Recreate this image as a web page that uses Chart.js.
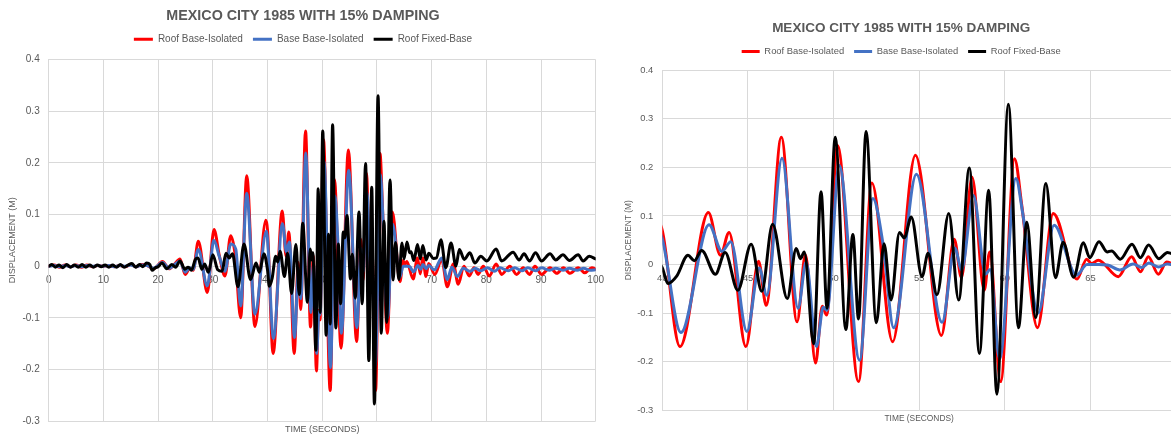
<!DOCTYPE html>
<html>
<head>
<meta charset="utf-8">
<style>
  html, body { margin: 0; padding: 0; background: #fff; overflow: hidden; }
  #wrap { position: relative; width: 1171px; height: 436px; overflow: hidden; }
  #fullChart { position: absolute; left: 0; top: 0; }
  #zoomChart { position: absolute; left: 600px; top: 0; }
</style>
</head>
<body>
<div id="wrap">
  <canvas id="fullChart" width="606" height="436"></canvas>
  <canvas id="zoomChart" width="602" height="436"></canvas>
</div>

<script src="https://cdn.jsdelivr.net/npm/chart.js"></script>

<script>
// 圖表文字
const chartTitle = 'MEXICO CITY 1985 WITH 15% DAMPING';
const xTitle = 'TIME (SECONDS)';
const yTitle = 'DISPLACEMENT (M)';
const seriesNames = ['Roof Base-Isolated', 'Base Base-Isolated', 'Roof Fixed-Base'];
const seriesColors = ['#ff0000', '#4472c4', '#000000'];

// Roof Base-Isolated (紅)
const redT = [0, 1, 2, 3, 4, 5, 6, 7, 8, 9, 10, 11, 12, 13, 14, 15, 16, 17, 18, 19.2,
  20.8, 22.0, 23.0, 24.0, 24.95, 25.8, 26.4, 27.35, 29.0, 30.22, 31.2, 32.23, 33.27, 34.06, 35.1, 36.2, 37.7, 39.7,
  40.0, 41.03, 42.69, 43.4, 43.9, 44.88, 45.62, 46.07, 46.95, 47.87, 48.36, 48.95, 49.34, 49.6,
  50.23, 51.46, 52.24, 53.45, 54.78, 56.3, 57.05, 57.47, 58.09, 58.8, 59.12, 59.76,
  60.57, 61.0, 61.91, 62.83, 64.22, 64.78, 65.07, 65.46, 66.63, 67.41, 67.93, 68.38, 68.97, 69.45,
  70.6, 71.85, 72.87, 73.97, 74.88, 75.9, 76.9, 77.75, 78.5, 79.45, 80.55, 81.8, 82.8, 84.3,
  85.55, 86.75, 87.9, 88.9, 90.1, 91.65, 92.9, 94.1, 95.3, 96.8, 98.0, 99.3, 100];
const redV = [0, 0.002, -0.002, 0.002, -0.001, 0.002, -0.002, 0.002, -0.001, 0.001, 0, 0.001, -0.001, 0.001, -0.001, 0.003, -0.001, 0.003, 0.001, -0.005,
  0.009, -0.005, 0.004, 0.014, -0.016, -0.004, -0.008, 0.048, -0.051, 0.071, 0.02, -0.019, 0.059, 0.024, -0.1, 0.175, -0.117, 0.089,
  0.07, -0.169, 0.107, 0.019, 0.066, -0.169, 0.007, -0.084, 0.262, -0.118, 0.02, -0.203, -0.086, -0.104,
  0.245, -0.241, 0.168, -0.159, 0.225, -0.146, 0.052, -0.027, 0.18, -0.053, 0.026, -0.241,
  0.218, 0.12, -0.13, 0.105, -0.03, 0.011, 0.002, 0.009, -0.025, 0.016, -0.015, 0.016, -0.02, 0.005,
  -0.016, 0.013, -0.04, 0.004, -0.035, 0, -0.019, -0.003, -0.016, 0, -0.019, 0.004, -0.016, 0,
  -0.016, -0.003, -0.016, 0, -0.016, -0.003, -0.014, -0.003, -0.014, -0.003, -0.013, -0.003, -0.006];

// Base Base-Isolated (藍)
const blueT = [0, 1, 2, 3, 4, 5, 6, 7, 8, 9, 10, 11, 12, 13, 14, 15, 16, 17, 18, 19.2,
  20.8, 22.0, 23.0, 24.0, 24.95, 25.8, 26.4, 27.35, 29.0, 30.2, 31.2, 32.2, 33.3, 34.2, 35.1, 36.2, 37.7, 39.8,
  40.0, 41.09, 42.73, 43.48, 44.0, 44.94, 45.66, 46.1, 46.99, 47.93, 48.4, 49.0, 49.4, 49.62,
  50.33, 51.52, 52.3, 52.9, 53.51, 54.84, 56.34, 57.08, 57.48, 58.17, 58.88, 59.14, 59.7,
  60.65, 61.05, 61.95, 62.88, 64.19, 64.8, 65.5, 66.0, 66.72, 67.5, 67.99, 68.42, 68.97, 69.5,
  70.5, 71.85, 72.87, 73.7, 74.7, 75.8, 77.0, 78.0, 79.0, 80.2, 81.5, 82.5, 84.0,
  85.2, 86.5, 87.6, 89.0, 90.1, 91.5, 92.7, 94.0, 95.2, 96.6, 97.8, 99.0, 100];
const blueV = [0, 0.001, -0.001, 0.001, -0.001, 0.001, -0.001, 0.001, 0, 0.001, 0, 0.001, -0.001, 0.001, 0, 0.002, -0.001, 0.002, 0.001, -0.004,
  0.007, -0.004, 0.003, 0.01, -0.012, -0.003, -0.006, 0.032, -0.038, 0.05, 0.018, -0.01, 0.043, 0.033, -0.077, 0.141, -0.093, 0.068,
  0.053, -0.14, 0.082, 0.027, 0.047, -0.138, -0.007, -0.063, 0.219, -0.09, 0.005, -0.169, -0.088, -0.094,
  0.204, -0.197, 0.136, 0.04, -0.13, 0.186, -0.119, 0.034, -0.011, 0.142, -0.02, -0.01, -0.194,
  0.177, 0.105, -0.1, 0.081, -0.022, 0, 0, -0.001, -0.011, 0.001, -0.006, 0.003, -0.005, 0.001,
  -0.007, 0.016, -0.026, -0.002, -0.02, -0.004, -0.01, -0.004, -0.009, -0.003, -0.01, -0.003, -0.009,
  -0.003, -0.009, -0.003, -0.009, -0.003, -0.008, -0.004, -0.008, -0.004, -0.008, -0.004, -0.008, -0.007];

// Roof Fixed-Base (黑)
const blackT = [0, 0.6, 1.2, 1.9, 2.6, 3.3, 4.0, 4.7, 5.4, 6.1, 6.8, 7.5, 8.2, 8.9, 9.6, 10.3, 11.0, 11.7, 12.4, 13.1,
  13.8, 14.5, 15.2, 15.9, 16.6, 17.2, 17.9, 18.5, 18.9, 19.5, 20.0, 20.7, 21.6, 22.5, 23.2, 24.0, 24.9, 25.5, 26.1, 26.8,
  27.3, 28.0, 28.5, 29.2, 30.0, 30.9, 31.7, 32.4, 33.0, 33.6, 34.6, 35.7, 36.9, 37.9, 38.5, 39.35,
  40.0, 40.33, 40.84, 41.5, 41.87, 42.3, 43.1, 43.67, 44.41, 45.19, 45.81, 46.44, 47.3, 47.82, 48.07, 48.29, 48.84, 49.27, 49.62,
  50.1, 50.72, 51.13, 51.46, 51.9, 52.5, 52.95, 53.36, 53.85, 54.13, 54.54, 55.17, 55.52, 56.04, 56.73, 57.31, 57.93, 58.52, 59.06, 59.54,
  60.21, 60.8, 61.29, 61.8, 62.4, 62.96, 63.41, 64.02, 64.59, 64.96, 65.5, 65.98, 66.24, 66.75, 67.43, 67.92, 68.4, 69.0, 69.5,
  70.3, 70.9, 71.7, 72.6, 73.55, 74.45, 75.07, 75.98, 77.0, 77.9, 79.0, 80.1, 81.8, 82.8, 84.9,
  86.0, 86.9, 87.9, 89.0, 90.1, 91.65, 92.7, 94.0, 95.2, 96.8, 97.7, 98.8, 100];
const blackV = [0, 0.003, -0.002, 0.002, -0.003, 0.003, -0.002, 0.002, -0.002, 0.003, -0.002, 0.002, -0.002, 0.002, -0.001, 0.002, -0.002, 0.002, -0.002, 0.003,
  -0.002, 0.002, 0.005, -0.002, 0.003, -0.001, 0.006, 0.003, -0.008, -0.003, -0.001, 0.006, -0.005, 0.003, -0.002, 0.01, -0.006, -0.002, -0.008, 0.013,
  0.016, -0.006, 0.004, -0.012, 0.022, -0.007, -0.01, 0.025, 0.016, 0.024, -0.04, 0.043, -0.026, 0.006, -0.012, 0.024,
  -0.007, -0.039, -0.024, 0.019, 0.008, 0.029, -0.02, 0.025, -0.053, 0.042, -0.055, 0.083, -0.07, 0.033, 0.012, 0.026, -0.163, 0.15, -0.09,
  0.262, -0.134, 0.062, -0.112, 0.274, -0.12, 0.043, -0.073, 0.066, 0.055, 0.098, -0.025, 0.023, -0.062, 0.105, -0.073, 0.199, -0.183, 0.153, -0.267,
  0.33, -0.13, 0.087, -0.109, 0.167, -0.027, 0.046, -0.026, 0.045, 0.014, 0.047, 0.026, 0.028, 0.011, 0.042, 0.014, 0.04, 0.012, 0.025,
  0.015, 0.016, 0.051, -0.003, 0.045, 0, 0.032, 0.013, 0.026, 0.006, 0.019, 0.01, 0.033, 0.01, 0.027,
  0.012, 0.024, 0.01, 0.026, 0.01, 0.024, 0.012, 0.022, 0.011, 0.022, 0.01, 0.019, 0.014];

// 座標軸刻度
const yMin = -0.3, yMax = 0.4, yStep = 0.1;
const fullRange = { min: 0, max: 100, step: 10 };
const zoomRange = { min: 40, max: 70, step: 5 };

Chart.defaults.font.family = "'Liberation Sans', Arial, sans-serif";
Chart.defaults.color = '#595959';

function toPoints(t, v) {
  return t.map((x, i) => ({ x: x, y: v[i] }));
}

// 在圖例下方多留一點空間
function legendGap(extra) {
  return {
    id: 'legendGap',
    beforeLayout(chart) {
      const lg = chart.legend;
      if (lg && !lg._gapPatched) {
        const fit = lg.fit;
        lg.fit = function () { fit.call(this); this.height += extra; };
        lg._gapPatched = true;
      }
    }
  };
}

function buildChart(canvasId, range, s) {
  const ctx = document.getElementById(canvasId).getContext('2d');
  const pairs = [[redT, redV], [blueT, blueV], [blackT, blackV]];
  const datasets = pairs.map((p, i) => ({
    label: seriesNames[i],
    data: toPoints(p[0], p[1]),
    borderColor: seriesColors[i],
    backgroundColor: seriesColors[i],
    borderWidth: s.lineWidth,
    pointRadius: 0,
    cubicInterpolationMode: 'monotone',
    borderJoinStyle: 'round',
    borderCapStyle: 'round',
    order: 3 - i
  }));

  return new Chart(ctx, {
    type: 'line',
    data: { datasets: datasets },
    plugins: [legendGap(s.legendExtra)],
    options: {
      responsive: false,
      animation: false,
      events: [],
      layout: { padding: { left: s.padLeft, right: s.padRight, top: 0, bottom: 0 } },
      plugins: {
        title: {
          display: true,
          text: chartTitle,
          color: '#595959',
          font: { size: s.titleSize, weight: 'bold' },
          padding: { top: s.titleTop, bottom: 0 }
        },
        legend: {
          position: 'top',
          labels: {
            boxWidth: s.boxWidth,
            boxHeight: 3,
            padding: 10,
            color: '#595959',
            font: { size: s.legendSize },
            sort: (a, b) => a.datasetIndex - b.datasetIndex,
            generateLabels: (chart) => Chart.defaults.plugins.legend.labels.generateLabels(chart)
              .map(l => Object.assign(l, { lineWidth: 0, fillStyle: l.strokeStyle }))
          }
        },
        subtitle: {
          display: true,
          position: 'bottom',
          fullSize: false,
          text: xTitle,
          color: '#595959',
          font: { size: s.axisTitleSize },
          padding: { top: 3, bottom: s.subBottom }
        },
        tooltip: { enabled: false }
      },
      scales: {
        x: {
          type: 'linear',
          min: range.min,
          max: range.max,
          position: { y: 0 },
          grid: { color: '#d9d9d9', drawTicks: false },
          border: { color: '#d9d9d9' },
          ticks: { stepSize: range.step, padding: s.xTickPad, font: { size: s.tickSize }, color: '#595959' },
          // 端點刻度字不要再把繪圖區往內推
          afterFit(scale) { scale.paddingLeft = 0; scale.paddingRight = 0; }
        },
        y: {
          min: yMin,
          max: yMax,
          grid: { color: '#d9d9d9', drawTicks: false },
          border: { color: '#d9d9d9' },
          ticks: { stepSize: yStep, padding: 9, font: { size: s.tickSize }, color: '#595959' },
          title: {
            display: true,
            text: yTitle,
            color: '#595959',
            font: { size: s.axisTitleSize },
            padding: { top: s.yTitlePad, bottom: 0 }
          },
          afterFit(scale) { scale.width = s.yWidth; }
        }
      }
    }
  });
}

buildChart('fullChart', fullRange, {
  lineWidth: 3, titleSize: 14.3, titleTop: 7, legendSize: 10, boxWidth: 19, legendExtra: 5.5,
  tickSize: 10, axisTitleSize: 9, padLeft: 10.3, padRight: 10.3, yWidth: 38.4,
  subBottom: 0, xTickPad: 8, yTitlePad: -3.4
});

buildChart('zoomChart', zoomRange, {
  lineWidth: 3, titleSize: 13.5, titleTop: 20.5, legendSize: 9.4, boxWidth: 18, legendExtra: 4.2,
  tickSize: 9.4, axisTitleSize: 8.4, padLeft: 26.3, padRight: 26, yWidth: 36,
  subBottom: 12.7, xTickPad: 8.5, yTitlePad: -2.4
});
</script>
</body>
</html>
